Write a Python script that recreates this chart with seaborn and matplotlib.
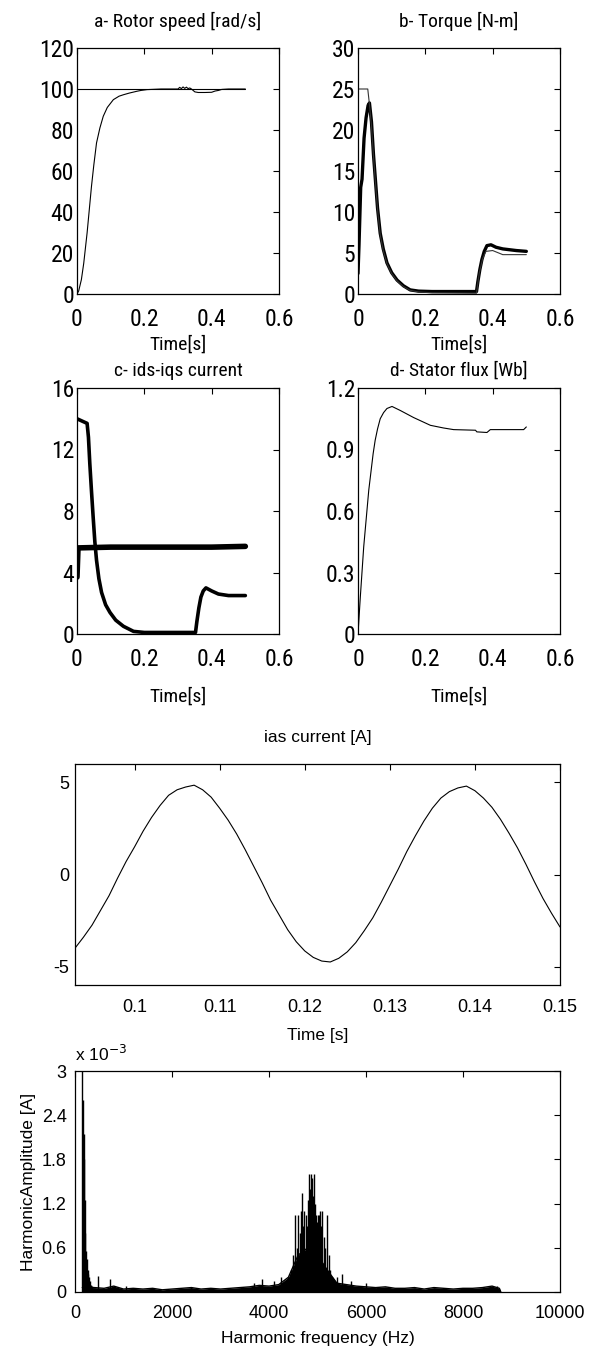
import matplotlib
matplotlib.use("Agg")
import matplotlib.pyplot as plt
import matplotlib.font_manager as fm
import seaborn as sns

# a - rotor speed
t_speed = [0, 0.005, 0.013, 0.02, 0.03, 0.043, 0.05, 0.058, 0.068, 0.078, 0.09, 0.108, 0.125,
           0.138, 0.155, 0.178, 0.19, 0.208, 0.25, 0.30, 0.305, 0.31, 0.315, 0.32, 0.325, 0.33,
           0.335, 0.34, 0.35, 0.36, 0.38, 0.40, 0.41, 0.42, 0.43, 0.45, 0.5]
speed = [0, 1.5, 7, 15, 29.8, 52.5, 63, 73.7, 81, 86.7, 91, 94.8, 96.5, 97.2, 98, 98.9, 99.3,
         99.7, 100, 100, 100.8, 100.2, 101, 100.3, 100.9, 100.2, 100.5, 100, 98.6, 98.3, 98.3,
         98.4, 99, 99.3, 99.8, 100, 100]
t_speed_ref = [0, 0.5]
speed_ref = [100, 100]

# b - torque
t_torque = [0, 0.003, 0.008, 0.012, 0.018, 0.024, 0.03, 0.034, 0.04, 0.046, 0.051, 0.058, 0.066,
            0.075, 0.086, 0.1, 0.116, 0.135, 0.155, 0.18, 0.22, 0.26, 0.30, 0.34, 0.352, 0.356,
            0.362, 0.368, 0.375, 0.383, 0.395, 0.41, 0.43, 0.45, 0.47, 0.5]
torque = [2.5, 6, 13, 14, 19, 21.5, 23, 23.3, 21, 17, 14.3, 10.5, 7.4, 5.5, 3.8, 2.6, 1.7, 1.0,
          0.5, 0.35, 0.3, 0.3, 0.3, 0.3, 0.3, 1.5, 3.0, 4.2, 5.2, 5.9, 6.0, 5.7, 5.5, 5.4, 5.3, 5.2]
t_torque_ref = [0, 0.029, 0.033, 0.04, 0.046, 0.051, 0.058, 0.066, 0.075, 0.086, 0.1, 0.116,
                0.135, 0.155, 0.18, 0.22, 0.34, 0.352, 0.36, 0.37, 0.38, 0.4, 0.43, 0.5]
torque_ref = [25, 25, 23.5, 20.5, 16.8, 14, 10.3, 7.2, 5.3, 3.7, 2.5, 1.6, 0.9, 0.45, 0.25, 0.15,
              0.1, 0.1, 2.5, 4.3, 5.2, 5.3, 4.8, 4.8]

# c - ids / iqs currents
t_iqs = [0, 0.01, 0.02, 0.03, 0.034, 0.038, 0.043, 0.048, 0.053, 0.058, 0.065, 0.073, 0.085,
         0.098, 0.115, 0.138, 0.168, 0.2, 0.25, 0.3, 0.34, 0.352, 0.356, 0.362, 0.368, 0.375,
         0.383, 0.40, 0.42, 0.45, 0.5]
iqs = [14, 13.9, 13.8, 13.7, 12.8, 11.1, 9.3, 7.6, 6.0, 4.8, 3.6, 2.7, 1.9, 1.4, 0.9, 0.5, 0.17,
       0.1, 0.1, 0.1, 0.1, 0.1, 0.8, 1.7, 2.4, 2.8, 3.0, 2.8, 2.6, 2.5, 2.5]
t_ids = [0, 0.003, 0.1, 0.2, 0.3, 0.4, 0.5]
ids = [3.7, 5.6, 5.65, 5.65, 5.65, 5.65, 5.7]

# d - stator flux
t_flux = [0, 0.007, 0.017, 0.032, 0.045, 0.051, 0.058, 0.066, 0.076, 0.086, 0.101, 0.126, 0.165,
          0.215, 0.254, 0.284, 0.349, 0.353, 0.383, 0.393, 0.492, 0.5]
flux = [0, 0.183, 0.426, 0.702, 0.88, 0.945, 1.0, 1.05, 1.08, 1.10, 1.11, 1.09, 1.056, 1.018,
        1.005, 0.997, 0.994, 0.986, 0.983, 0.997, 0.997, 1.01]

# ias current
t_ias = [0.093, 0.094, 0.095, 0.096, 0.097, 0.098, 0.099, 0.100, 0.101, 0.102, 0.103, 0.104,
         0.105, 0.106, 0.107, 0.108, 0.109, 0.110, 0.111, 0.112, 0.113, 0.114, 0.115, 0.116,
         0.117, 0.118, 0.119, 0.120, 0.121, 0.122, 0.123, 0.124, 0.125, 0.126, 0.127, 0.128,
         0.129, 0.130, 0.131, 0.132, 0.133, 0.134, 0.135, 0.136, 0.137, 0.138, 0.139, 0.140,
         0.141, 0.142, 0.143, 0.144, 0.145, 0.146, 0.147, 0.148, 0.149, 0.150]
ias = [-4.0, -3.4, -2.75, -1.95, -1.15, -0.2, 0.7, 1.5, 2.35, 3.1, 3.75, 4.3, 4.6, 4.75, 4.85,
       4.6, 4.2, 3.6, 2.95, 2.2, 1.35, 0.45, -0.45, -1.4, -2.2, -3.0, -3.65, -4.15, -4.5, -4.7,
       -4.75, -4.55, -4.2, -3.7, -3.05, -2.35, -1.5, -0.6, 0.3, 1.25, 2.1, 2.9, 3.6, 4.15, 4.5,
       4.7, 4.8, 4.55, 4.15, 3.65, 3.0, 2.25, 1.45, 0.55, -0.4, -1.3, -2.1, -2.85]

# harmonic spectrum (amplitudes in 1e-3 A)
spike_freq = [150, 170, 180, 195, 205, 215, 230, 245, 260, 275, 290, 310, 330, 360, 480, 720,
              1050, 2400, 3700, 3850, 4100, 4250, 4300, 4350, 4400, 4430, 4460, 4490, 4510,
              4540, 4570, 4600, 4630, 4650, 4680, 4700, 4730, 4760, 4780, 4800, 4820, 4840,
              4860, 4880, 4900, 4920, 4940, 4960, 4980, 5000, 5020, 5040, 5060, 5080, 5100,
              5130, 5160, 5200, 5230, 5260, 5300, 5350, 5400, 5500, 5700, 6000, 8700]
spike_amp = [3.0, 2.6, 2.15, 1.8, 1.25, 0.8, 0.55, 0.45, 0.3, 0.25, 0.2, 0.15, 0.1, 0.08, 0.22,
             0.18, 0.08, 0.07, 0.12, 0.18, 0.15, 0.2, 0.12, 0.15, 0.2, 0.25, 0.3, 0.5, 0.35,
             1.05, 0.6, 1.05, 0.8, 1.1, 1.35, 0.9, 1.1, 1.05, 0.9, 1.25, 1.6, 1.4, 1.6, 1.55,
             1.3, 1.6, 1.2, 1.05, 0.95, 1.05, 0.9, 1.05, 1.1, 0.9, 1.1, 0.75, 0.6, 1.05, 0.5,
             0.3, 0.2, 0.15, 0.2, 0.25, 0.15, 0.12, 0.08]
floor_freq = [150, 400, 600, 800, 1000, 1200, 1400, 1600, 1800, 2000, 2200, 2400, 2600, 2800,
              3000, 3200, 3400, 3600, 3800, 4000, 4200, 4400, 4600, 4800, 5000, 5200, 5400,
              5600, 5800, 6000, 6200, 6400, 6600, 6800, 7000, 7200, 7400, 7600, 7800, 8000,
              8200, 8400, 8600, 8750, 8780]
floor_amp = [0.06, 0.06, 0.05, 0.08, 0.04, 0.05, 0.04, 0.05, 0.03, 0.04, 0.05, 0.06, 0.04, 0.05,
             0.04, 0.05, 0.06, 0.07, 0.09, 0.08, 0.1, 0.2, 0.5, 0.6, 0.5, 0.3, 0.12, 0.1, 0.08,
             0.07, 0.06, 0.07, 0.05, 0.05, 0.06, 0.04, 0.06, 0.05, 0.04, 0.05, 0.05, 0.06, 0.08,
             0.05, 0.0]

sns.set_theme(style="white")
names = {f.name for f in fm.fontManager.ttflist}
narrow = next((n for n in ["Liberation Sans Narrow", "Roboto Condensed", "Open Sans Condensed",
                           "Noto Sans Condensed", "Arial Narrow"] if n in names), None)
plt.rcParams["font.family"] = ["Liberation Sans", "DejaVu Sans"]
plt.rcParams["axes.edgecolor"] = "black"
plt.rcParams["axes.linewidth"] = 0.9
top_font = [narrow or "Liberation Sans", "DejaVu Sans"]
top_tick = 17 if narrow else 15
top_text = 14 if narrow else 13

W, H = 591, 1358
fig = plt.figure(figsize=(W / 100, H / 100), dpi=100)


def box(l, t, r, b):
    return [l / W, 1 - b / H, (r - l) / W, (b - t) / H]


def style(ax, size, fam, xpad, ypad):
    ax.tick_params(direction="in", top=True, right=True, length=4, width=0.8,
                   labelsize=size, colors="black")
    ax.tick_params(axis="x", pad=xpad)
    ax.tick_params(axis="y", pad=ypad)
    for lab in ax.get_xticklabels() + ax.get_yticklabels():
        lab.set_family(fam)
    for s in ax.spines.values():
        s.set_color("black")


small = [
    (box(77, 48, 279, 294), "a- Rotor speed [rad/s]", (0, 120), [0, 20, 40, 60, 80, 100, 120], None, 15, 3),
    (box(358, 48, 560, 294), "b- Torque [N-m]", (0, 30), [0, 5, 10, 15, 20, 25, 30], None, 15, 3),
    (box(77, 388, 279, 634), "c- ids-iqs current", (0, 16), [0, 4, 8, 12, 16], None, 9, 12),
    (box(358, 388, 560, 634), "d- Stator flux [Wb]", (0, 1.2), [0, 0.3, 0.6, 0.9, 1.2],
     ["0", "0.3", "0.6", "0.9", "1.2"], 9, 12),
]
axes = []
for pos, title, ylim, yt, ytl, tpad, lpad in small:
    ax = fig.add_axes(pos)
    ax.set_xlim(0, 0.6)
    ax.set_ylim(*ylim)
    ax.set_xticks([0, 0.2, 0.4, 0.6])
    ax.set_xticklabels(["0", "0.2", "0.4", "0.6"])
    ax.set_yticks(yt)
    if ytl:
        ax.set_yticklabels(ytl)
    ax.set_title(title, fontsize=top_text, family=top_font, pad=tpad, color="black")
    axes.append((ax, lpad))

ax_a, ax_b, ax_c, ax_d = [a for a, _ in axes]
sns.lineplot(x=t_speed_ref, y=speed_ref, ax=ax_a, color="black", lw=0.8, sort=False, estimator=None)
sns.lineplot(x=t_speed, y=speed, ax=ax_a, color="black", lw=0.8, sort=False, estimator=None)
sns.lineplot(x=t_torque, y=torque, ax=ax_b, color="black", lw=2.4, sort=False, estimator=None)
sns.lineplot(x=t_torque_ref, y=torque_ref, ax=ax_b, color="#333333", lw=0.8, sort=False, estimator=None)
sns.lineplot(x=t_iqs, y=iqs, ax=ax_c, color="black", lw=2.6, sort=False, estimator=None)
sns.lineplot(x=t_ids, y=ids, ax=ax_c, color="black", lw=4.0, sort=False, estimator=None)
sns.lineplot(x=t_flux, y=flux, ax=ax_d, color="black", lw=0.8, sort=False, estimator=None)
for ax, lpad in axes:
    ax.set_xlabel("Time[s]", fontsize=top_text, family=top_font, labelpad=lpad, color="black")
    ax.set_ylabel("")
    style(ax, top_tick, top_font, 10, 2)

# ias current
ax_e = fig.add_axes(box(75, 764, 560, 985))
sns.lineplot(x=t_ias, y=ias, ax=ax_e, color="black", lw=0.8, sort=False, estimator=None)
ax_e.set_xlim(0.093, 0.15)
ax_e.set_ylim(-6, 6)
ax_e.set_xticks([0.1, 0.11, 0.12, 0.13, 0.14, 0.15])
ax_e.set_xticklabels(["0.1", "0.11", "0.12", "0.13", "0.14", "0.15"])
ax_e.set_yticks([-5, 0, 5])
ax_e.set_yticklabels(["-5", "0", "5"])
ax_e.set_title("ias current [A]", fontsize=12.5, pad=16, color="black")
ax_e.set_xlabel("Time [s]", fontsize=12.5, labelpad=9, color="black")
ax_e.set_ylabel("")
style(ax_e, 13, ["Liberation Sans", "DejaVu Sans"], 10, 4)

# harmonic spectrum
ax_f = fig.add_axes(box(75, 1071, 560, 1292))
ax_f.fill_between(floor_freq, 0, floor_amp, color="black", lw=0)
sns.lineplot(x=floor_freq, y=floor_amp, ax=ax_f, color="black", lw=1.0, sort=False, estimator=None)
ax_f.vlines(spike_freq, 0, spike_amp, color="black", lw=1.0)
ax_f.set_xlim(0, 10000)
ax_f.set_ylim(0, 3)
ax_f.set_xticks([0, 2000, 4000, 6000, 8000, 10000])
ax_f.set_xticklabels(["0", "2000", "4000", "6000", "8000", "10000"])
ax_f.set_yticks([0, 0.6, 1.2, 1.8, 2.4, 3])
ax_f.set_yticklabels(["0", "0.6", "1.2", "1.8", "2.4", "3"])
ax_f.set_xlabel("Harmonic frequency (Hz)", fontsize=12.5, labelpad=7, color="black")
ax_f.set_ylabel("HarmonicAmplitude [A]", fontsize=12.5, labelpad=4, color="black")
ax_f.text(0.0, 1.03, "x 10$^{-3}$", transform=ax_f.transAxes, fontsize=12.5, color="black",
          ha="left", va="bottom")
style(ax_f, 13, ["Liberation Sans", "DejaVu Sans"], 9, 6)

fig.savefig("out.png", dpi=100, facecolor="white")
